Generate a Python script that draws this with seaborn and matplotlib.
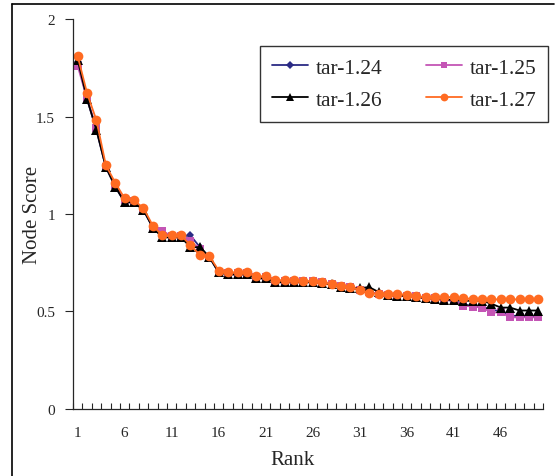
import numpy as np
import pandas as pd
import seaborn as sns
import matplotlib.pyplot as plt
from matplotlib.lines import Line2D

sns.set_style("ticks")
plt.rcParams['font.family'] = ['Liberation Serif', 'DejaVu Serif']

rank = list(range(1, 51))

tar_124 = [1.78, 1.59, 1.43, 1.24, 1.14, 1.06, 1.06, 1.02, 0.93, 0.91,
           0.885, 0.885, 0.89, 0.83, 0.78, 0.70, 0.69, 0.69, 0.69, 0.67,
           0.67, 0.65, 0.65, 0.65, 0.65, 0.65, 0.645, 0.64, 0.625, 0.62,
           0.61, 0.60, 0.59, 0.585, 0.58, 0.58, 0.575, 0.565, 0.565, 0.56,
           0.555, 0.54, 0.525, 0.525, 0.51, 0.50, 0.48, 0.475, 0.47, 0.475]

tar_125 = [1.76, 1.59, 1.44, 1.24, 1.15, 1.07, 1.065, 1.025, 0.93, 0.915,
           0.885, 0.885, 0.86, 0.82, 0.78, 0.705, 0.695, 0.695, 0.695, 0.675,
           0.675, 0.655, 0.655, 0.655, 0.655, 0.655, 0.65, 0.64, 0.63, 0.625,
           0.61, 0.60, 0.59, 0.585, 0.58, 0.58, 0.58, 0.57, 0.57, 0.56,
           0.555, 0.53, 0.525, 0.52, 0.495, 0.495, 0.47, 0.47, 0.47, 0.47]

tar_126 = [1.79, 1.59, 1.43, 1.24, 1.14, 1.06, 1.06, 1.02, 0.93, 0.88,
           0.88, 0.88, 0.83, 0.83, 0.78, 0.70, 0.69, 0.69, 0.69, 0.67,
           0.67, 0.65, 0.65, 0.65, 0.65, 0.65, 0.645, 0.64, 0.625, 0.62,
           0.62, 0.625, 0.60, 0.585, 0.58, 0.58, 0.575, 0.57, 0.565, 0.56,
           0.56, 0.555, 0.555, 0.555, 0.54, 0.52, 0.52, 0.505, 0.505, 0.505]

tar_127 = [1.81, 1.62, 1.48, 1.25, 1.16, 1.08, 1.07, 1.03, 0.94, 0.89,
           0.89, 0.89, 0.84, 0.79, 0.785, 0.71, 0.70, 0.70, 0.70, 0.68,
           0.68, 0.66, 0.66, 0.66, 0.655, 0.655, 0.65, 0.64, 0.63, 0.627,
           0.61, 0.595, 0.59, 0.59, 0.59, 0.585, 0.578, 0.573, 0.573, 0.573,
           0.573, 0.567, 0.565, 0.565, 0.562, 0.562, 0.562, 0.562, 0.562, 0.562]

series = ["tar-1.24", "tar-1.25", "tar-1.26", "tar-1.27"]
colors = {"tar-1.24": "#2B2B85", "tar-1.25": "#C455B5",
          "tar-1.26": "#000000", "tar-1.27": "#FF6B22"}
markers = {"tar-1.24": "D", "tar-1.25": "s", "tar-1.26": "^", "tar-1.27": "o"}
msize = {"tar-1.24": 4.5, "tar-1.25": 6, "tar-1.26": 6.5, "tar-1.27": 7}

df = pd.DataFrame({
    "Rank": rank * 4,
    "score": tar_124 + tar_125 + tar_126 + tar_127,
    "series": np.repeat(series, len(rank)),
})

fig = plt.figure(figsize=(5.57, 4.77), dpi=100)
ax = fig.add_axes([0.131, 0.1405, 0.844, 0.8175])

for s in series:
    sns.lineplot(data=df[df["series"] == s], x="Rank", y="score", ax=ax,
                 color=colors[s], marker=markers[s], markersize=msize[s],
                 markeredgewidth=0, linewidth=1.3, legend=False)

ax.set_xlim(0.5, 50.5)
ax.set_ylim(0, 2)
ax.set_xticks(list(range(1, 51, 5)))
ax.set_xticks(np.arange(0.5, 51, 1), minor=True)
ax.tick_params(axis="x", which="major", length=0, pad=12, labelsize=11)
ax.tick_params(axis="x", which="minor", length=4, direction="in", width=0.8)
ax.set_yticks([0, 0.5, 1, 1.5, 2])
ax.set_yticklabels(["0", "0.5", "1", "1.5", "2"])
ax.tick_params(axis="y", length=6, width=0.8, labelsize=11, pad=7)
for side in ["top", "right"]:
    ax.spines[side].set_visible(False)
for side in ["left", "bottom"]:
    ax.spines[side].set_linewidth(0.9)

ax.set_xlabel("Rank", fontsize=15, labelpad=5)
ax.xaxis.set_label_coords(0.468, -0.105)
ax.set_ylabel("Node Score", fontsize=15)
ax.yaxis.set_label_coords(-0.066, 0.5)

# legend rows: 1.24 / 1.25 then 1.26 / 1.27
order = ["tar-1.24", "tar-1.26", "tar-1.25", "tar-1.27"]
handles = [Line2D([0], [0], color=colors[s], marker=markers[s],
                  markersize=msize[s] * 0.8, markeredgewidth=0, linewidth=1.3)
           for s in order]
leg = ax.legend(handles, order, ncol=2, loc="upper right",
                bbox_to_anchor=(1.011, 0.931), borderaxespad=0,
                fontsize=15.5, frameon=True, fancybox=False, edgecolor="black",
                handlelength=1.7, columnspacing=2.0, handletextpad=0.35,
                borderpad=0.55, labelspacing=0.55)
leg.get_frame().set_linewidth(1)

# outer frame (left and top edges)
fig.add_artist(Line2D([0.0215, 0.0215], [0, 0.99], color="black", linewidth=1.2))
fig.add_artist(Line2D([0.0215, 0.995], [0.99, 0.99], color="black", linewidth=1.2))

fig.savefig("out.png", dpi=100)
